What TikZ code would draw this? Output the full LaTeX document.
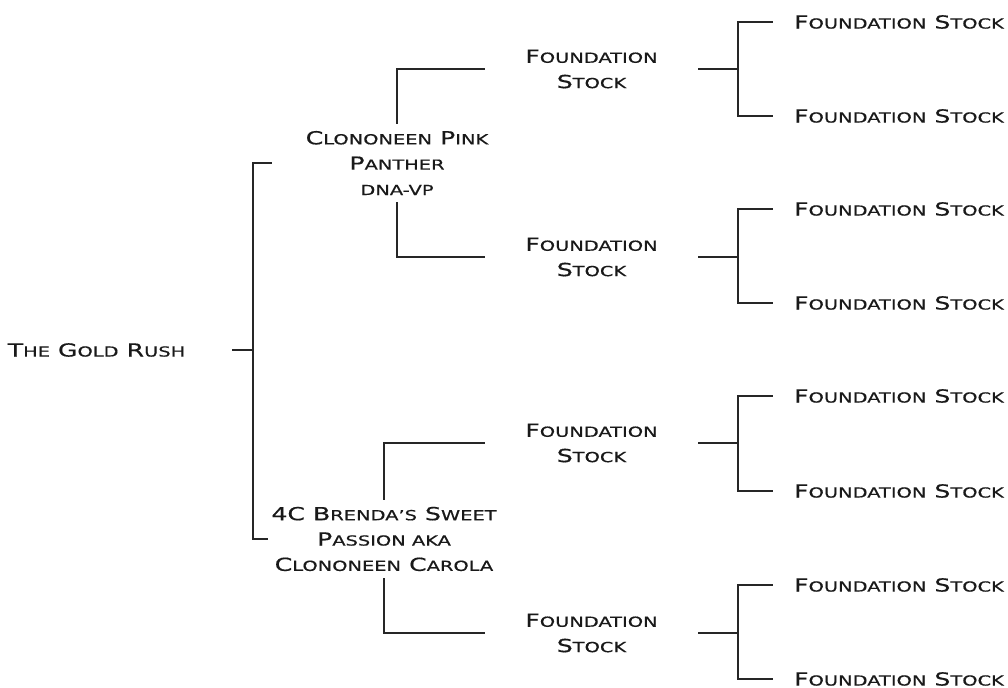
\documentclass[tikz,border=0pt]{standalone}
\usepackage{fontspec}
\setmainfont[FakeStretch=1.40,FakeBold=0.6]{DejaVu Sans}
\newcommand\sm[1]{{\fontsize{10.4}{19}\selectfont #1}}
\begin{document}
\begin{tikzpicture}[x=0.75pt,y=-0.75pt,
  lbl/.style={inner sep=0pt, align=center, font=\fontsize{13.5}{19}\selectfont, text=black!90},
  sire/.style={lbl, minimum height=58.5pt},
  mid/.style={lbl, minimum width=159.75pt},
  leaf/.style={lbl, minimum width=189pt},
  conn/.style={line width=1.1pt, draw=black!85}]
\useasboundingbox (0,0) rectangle (1008,688);
% nodes
\node[lbl, minimum width=203.25pt] (root) at (96.5,350) {T\sm{HE} G\sm{OLD} R\sm{USH}};
\node[sire, minimum width=187.5pt] (s1) at (397,163) {C\sm{LONONEEN} P\sm{INK}\\P\sm{ANTHER}\\\sm{DNA-VP}};
\node[sire, minimum width=174pt] (d1) at (384,539) {4C B\sm{RENDA'S} S\sm{WEET}\\P\sm{ASSION AKA}\\C\sm{LONONEEN} C\sm{AROLA}};
\node[mid] (m1) at (591.5,69) {F\sm{OUNDATION}\\S\sm{TOCK}};
\node[mid] (m2) at (591.5,257) {F\sm{OUNDATION}\\S\sm{TOCK}};
\node[mid] (m3) at (591.5,443) {F\sm{OUNDATION}\\S\sm{TOCK}};
\node[mid] (m4) at (591.5,633) {F\sm{OUNDATION}\\S\sm{TOCK}};
\foreach \n/\y in {1/22,2/116,3/209,4/303,5/396,6/491,7/585,8/679}
  \node[leaf] (l\n) at (899,\y) {F\sm{OUNDATION} S\sm{TOCK}};
% junctions
\coordinate (j0) at (253,350);
\coordinate (k1) at (738,69);
\coordinate (k2) at (738,257);
\coordinate (k3) at (738,443);
\coordinate (k4) at (738,633);
% connectors
\draw[conn] (root.east) -- (j0);
\draw[conn] (s1.west) -| (j0) |- (d1.west);
\draw[conn] (m1.west) -| (s1.north);
\draw[conn] (s1.south) |- (m2.west);
\draw[conn] (m3.west) -| (d1.north);
\draw[conn] (d1.south) |- (m4.west);
\foreach \i/\a/\b in {1/1/2,2/3/4,3/5/6,4/7/8}{
  \draw[conn] (m\i.east) -- (k\i);
  \draw[conn] (l\a.west) -| (k\i) |- (l\b.west);
}
\end{tikzpicture}
\end{document}
